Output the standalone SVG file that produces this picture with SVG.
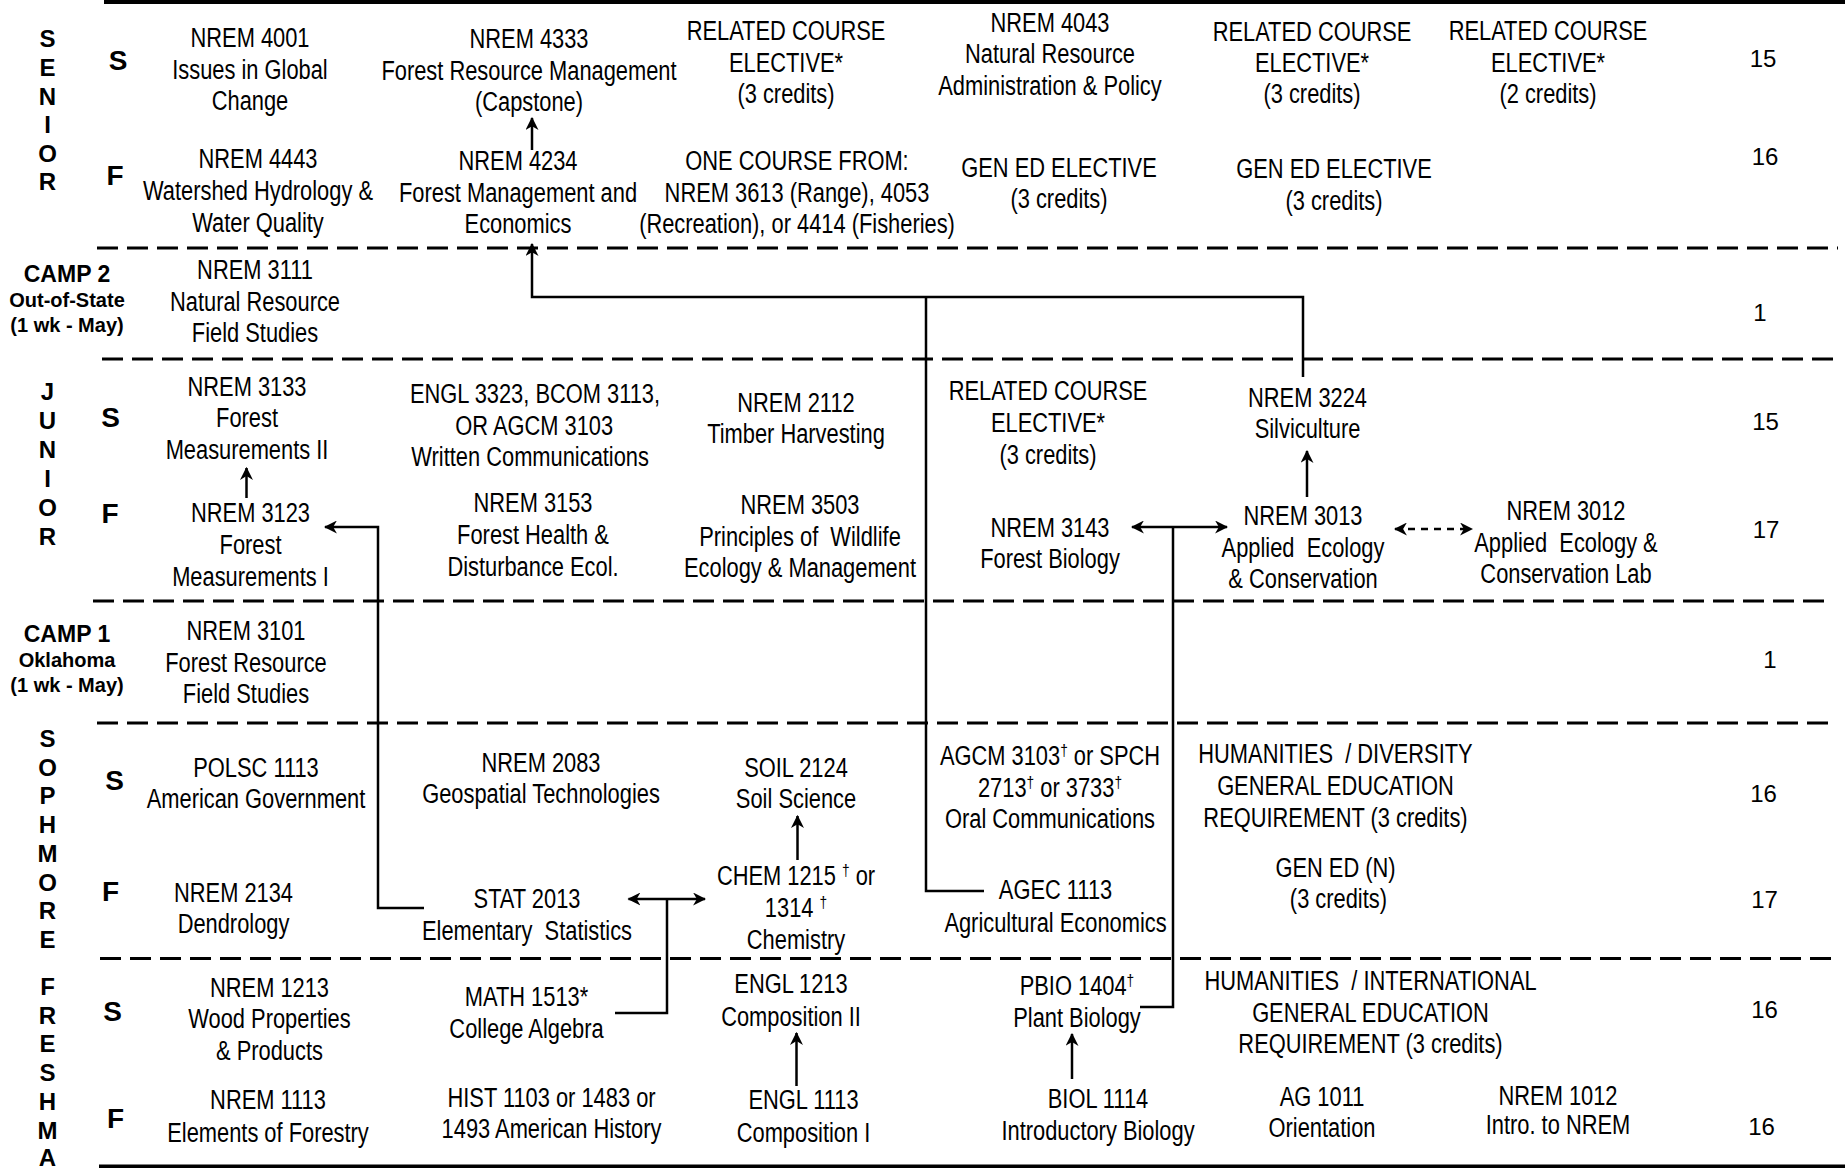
<svg xmlns="http://www.w3.org/2000/svg" width="1845" height="1168" viewBox="0 0 1845 1168">
<defs>
<style>
.c{font-family:"Liberation Sans",Arial,sans-serif;font-size:27px;text-anchor:middle;fill:#000}
.n{font-family:"Liberation Sans",Arial,sans-serif;font-size:24px;text-anchor:middle;fill:#000}
.v{font-family:"Liberation Sans",Arial,sans-serif;font-size:24px;font-weight:bold;text-anchor:middle;fill:#000}
.sem{font-family:"Liberation Sans",Arial,sans-serif;font-size:28px;font-weight:bold;text-anchor:middle;fill:#000}
.camp{font-family:"Liberation Sans",Arial,sans-serif;font-size:23px;font-weight:bold;text-anchor:middle;fill:#000}
.camps{font-family:"Liberation Sans",Arial,sans-serif;font-size:20px;font-weight:bold;text-anchor:middle;fill:#000}
.sup{font-size:17px}
.solid{stroke:#000;stroke-width:4;fill:none}
.dash{stroke:#000;stroke-width:3;fill:none;stroke-dasharray:21 9}
.con{stroke:#000;stroke-width:2.5;fill:none}
.arr{marker-end:url(#ah)}
.both{marker-start:url(#ah);marker-end:url(#ah)}
.dsh{stroke-dasharray:7 6}
</style>
<marker id="ah" viewBox="0 0 12 12" refX="11" refY="6" markerWidth="13" markerHeight="13" markerUnits="userSpaceOnUse" orient="auto-start-reverse">
<path d="M0,0 L12,6 L0,12 L3.5,6 z" fill="#000"/>
</marker>
</defs>
<rect width="1845" height="1168" fill="#fff"/>

<g id="grid">
<line class="solid" x1="104" y1="2" x2="1845" y2="2"/>
<line class="dash" x1="97" y1="248" x2="1838" y2="248"/>
<line class="dash" x1="102" y1="359" x2="1838" y2="359"/>
<line class="dash" x1="93" y1="601" x2="1830" y2="601"/>
<line class="dash" x1="97" y1="723" x2="1835" y2="723"/>
<line class="dash" x1="100" y1="958.5" x2="1838" y2="958.5"/>
<line class="solid" x1="99" y1="1166.5" x2="1845" y2="1166.5"/>
</g>

<g id="year-labels">
<text class="v"><tspan x="47.5" y="47">S</tspan><tspan x="47.5" y="76">E</tspan><tspan x="47.5" y="105">N</tspan><tspan x="47.5" y="133">I</tspan><tspan x="47.5" y="162">O</tspan><tspan x="47.5" y="190">R</tspan></text>
<text class="camp" x="67" y="282">CAMP 2</text>
<text class="camps" x="67" y="307">Out-of-State</text>
<text class="camps" x="67" y="332">(1 wk - May)</text>
<text class="v"><tspan x="47.5" y="400">J</tspan><tspan x="47.5" y="429">U</tspan><tspan x="47.5" y="458">N</tspan><tspan x="47.5" y="487">I</tspan><tspan x="47.5" y="516">O</tspan><tspan x="47.5" y="545">R</tspan></text>
<text class="camp" x="67" y="642">CAMP 1</text>
<text class="camps" x="67" y="667">Oklahoma</text>
<text class="camps" x="67" y="692">(1 wk - May)</text>
<text class="v"><tspan x="47.5" y="747">S</tspan><tspan x="47.5" y="775.7">O</tspan><tspan x="47.5" y="804.4">P</tspan><tspan x="47.5" y="833">H</tspan><tspan x="47.5" y="861.8">M</tspan><tspan x="47.5" y="890.5">O</tspan><tspan x="47.5" y="919">R</tspan><tspan x="47.5" y="948">E</tspan></text>
<text class="v"><tspan x="47.5" y="995">F</tspan><tspan x="47.5" y="1023.7">R</tspan><tspan x="47.5" y="1052.4">E</tspan><tspan x="47.5" y="1081">S</tspan><tspan x="47.5" y="1109.8">H</tspan><tspan x="47.5" y="1138.5">M</tspan><tspan x="47.5" y="1166">A</tspan></text>
</g>

<g id="semester-labels">
<text class="sem" x="118" y="70">S</text>
<text class="sem" x="115" y="185">F</text>
<text class="sem" x="110.5" y="427">S</text>
<text class="sem" x="110" y="523">F</text>
<text class="sem" x="114.5" y="790">S</text>
<text class="sem" x="110.5" y="901">F</text>
<text class="sem" x="112.5" y="1021">S</text>
<text class="sem" x="115.5" y="1128">F</text>
</g>

<g id="credits">
<text class="n" x="1763" y="67">15</text>
<text class="n" x="1765" y="165">16</text>
<text class="n" x="1760" y="321">1</text>
<text class="n" x="1765.5" y="430">15</text>
<text class="n" x="1766" y="538">17</text>
<text class="n" x="1770" y="668">1</text>
<text class="n" x="1763.5" y="802">16</text>
<text class="n" x="1764.5" y="908">17</text>
<text class="n" x="1764.5" y="1018">16</text>
<text class="n" x="1761.5" y="1135">16</text>
</g>

<g id="connectors">
<path class="con arr" d="M532 150 V118"/>
<path class="con arr" d="M1303 377 V297 H532 V244"/>
<path class="con" d="M984 891 H926 V297"/>
<path class="con arr" d="M246.5 498 V468"/>
<path class="con arr" d="M424 908 H378 V527 H325"/>
<path class="con both" d="M1132 527 H1227"/>
<path class="con" d="M1140 1007 H1173 V527"/>
<path class="con arr" d="M1307 497 V451"/>
<path class="con both dsh" d="M1395 529 H1472"/>
<path class="con both" d="M628.5 899 H705"/>
<path class="con" d="M615 1013 H667 V899"/>
<path class="con arr" d="M797.5 860 V816"/>
<path class="con arr" d="M796.5 1086 V1033"/>
<path class="con arr" d="M1072 1079 V1034"/>
</g>

<g id="n4001"><text class="c" transform="translate(250 0) scale(0.81 1)"><tspan x="0" y="47">NREM 4001</tspan><tspan x="0" y="79">Issues in Global</tspan><tspan x="0" y="110">Change</tspan></text></g>
<g id="n4333"><text class="c" transform="translate(529 0) scale(0.81 1)"><tspan x="0" y="48">NREM 4333</tspan><tspan x="0" y="80">Forest Resource Management</tspan><tspan x="0" y="111">(Capstone)</tspan></text></g>
<g id="rce1"><text class="c" transform="translate(786 0) scale(0.81 1)"><tspan x="0" y="40">RELATED COURSE</tspan><tspan x="0" y="72">ELECTIVE*</tspan><tspan x="0" y="103">(3 credits)</tspan></text></g>
<g id="n4043"><text class="c" transform="translate(1050 0) scale(0.81 1)"><tspan x="0" y="32">NREM 4043</tspan><tspan x="0" y="63">Natural Resource</tspan><tspan x="0" y="95">Administration &amp; Policy</tspan></text></g>
<g id="rce2"><text class="c" transform="translate(1312 0) scale(0.81 1)"><tspan x="0" y="41">RELATED COURSE</tspan><tspan x="0" y="72">ELECTIVE*</tspan><tspan x="0" y="103">(3 credits)</tspan></text></g>
<g id="rce3"><text class="c" transform="translate(1548 0) scale(0.81 1)"><tspan x="0" y="40">RELATED COURSE</tspan><tspan x="0" y="72">ELECTIVE*</tspan><tspan x="0" y="103">(2 credits)</tspan></text></g>

<g id="n4443"><text class="c" transform="translate(258 0) scale(0.81 1)"><tspan x="0" y="168">NREM 4443</tspan><tspan x="0" y="200">Watershed Hydrology &amp;</tspan><tspan x="0" y="232">Water Quality</tspan></text></g>
<g id="n4234"><text class="c" transform="translate(518 0) scale(0.81 1)"><tspan x="0" y="170">NREM 4234</tspan><tspan x="0" y="202">Forest Management and</tspan><tspan x="0" y="233">Economics</tspan></text></g>
<g id="onecourse"><text class="c" transform="translate(797 0) scale(0.81 1)"><tspan x="0" y="170">ONE COURSE FROM:</tspan><tspan x="0" y="202">NREM 3613 (Range), 4053</tspan><tspan x="0" y="233">(Recreation), or 4414 (Fisheries)</tspan></text></g>
<g id="gened1"><text class="c" transform="translate(1059 0) scale(0.81 1)"><tspan x="0" y="177">GEN ED ELECTIVE</tspan><tspan x="0" y="208">(3 credits)</tspan></text></g>
<g id="gened2"><text class="c" transform="translate(1334 0) scale(0.81 1)"><tspan x="0" y="178">GEN ED ELECTIVE</tspan><tspan x="0" y="210">(3 credits)</tspan></text></g>

<g id="n3111"><text class="c" transform="translate(255 0) scale(0.81 1)"><tspan x="0" y="279">NREM 3111</tspan><tspan x="0" y="311">Natural Resource</tspan><tspan x="0" y="342">Field Studies</tspan></text></g>

<g id="n3133"><text class="c" transform="translate(247 0) scale(0.81 1)"><tspan x="0" y="396">NREM 3133</tspan><tspan x="0" y="427">Forest</tspan><tspan x="0" y="459">Measurements II</tspan></text></g>
<g id="writtencomm"><text class="c" transform="translate(535 0) scale(0.81 1)"><tspan x="0" y="403">ENGL 3323, BCOM 3113,</tspan><tspan x="-1" y="435">OR AGCM 3103</tspan><tspan x="-6" y="466">Written Communications</tspan></text></g>
<g id="n2112"><text class="c" transform="translate(796 0) scale(0.81 1)"><tspan x="0" y="412">NREM 2112</tspan><tspan x="0" y="443">Timber Harvesting</tspan></text></g>
<g id="rce4"><text class="c" transform="translate(1048 0) scale(0.81 1)"><tspan x="0" y="400">RELATED COURSE</tspan><tspan x="0" y="432">ELECTIVE*</tspan><tspan x="0" y="464">(3 credits)</tspan></text></g>
<g id="n3224"><text class="c" transform="translate(1307.5 0) scale(0.81 1)"><tspan x="0" y="407">NREM 3224</tspan><tspan x="0" y="438">Silviculture</tspan></text></g>

<g id="n3123"><text class="c" transform="translate(250.5 0) scale(0.81 1)"><tspan x="0" y="522">NREM 3123</tspan><tspan x="0" y="554">Forest</tspan><tspan x="0" y="586">Measurements I</tspan></text></g>
<g id="n3153"><text class="c" transform="translate(533 0) scale(0.81 1)"><tspan x="0" y="512">NREM 3153</tspan><tspan x="0" y="544">Forest Health &amp;</tspan><tspan x="0" y="576">Disturbance Ecol.</tspan></text></g>
<g id="n3503"><text class="c" transform="translate(800 0) scale(0.81 1)"><tspan x="0" y="514">NREM 3503</tspan><tspan x="0" y="546">Principles of&#160; Wildlife</tspan><tspan x="0" y="577">Ecology &amp; Management</tspan></text></g>
<g id="n3143"><text class="c" transform="translate(1050 0) scale(0.81 1)"><tspan x="0" y="537">NREM 3143</tspan><tspan x="0" y="568">Forest Biology</tspan></text></g>
<g id="n3013"><text class="c" transform="translate(1303 0) scale(0.81 1)"><tspan x="0" y="525">NREM 3013</tspan><tspan x="0" y="557">Applied&#160; Ecology</tspan><tspan x="0" y="588">&amp; Conservation</tspan></text></g>
<g id="n3012"><text class="c" transform="translate(1566 0) scale(0.81 1)"><tspan x="0" y="520">NREM 3012</tspan><tspan x="0" y="552">Applied&#160; Ecology &amp;</tspan><tspan x="0" y="583">Conservation Lab</tspan></text></g>

<g id="n3101"><text class="c" transform="translate(246 0) scale(0.81 1)"><tspan x="0" y="640">NREM 3101</tspan><tspan x="0" y="672">Forest Resource</tspan><tspan x="0" y="703">Field Studies</tspan></text></g>

<g id="polsc1113"><text class="c" transform="translate(256 0) scale(0.81 1)"><tspan x="0" y="777">POLSC 1113</tspan><tspan x="0" y="808">American Government</tspan></text></g>
<g id="n2083"><text class="c" transform="translate(541 0) scale(0.81 1)"><tspan x="0" y="772">NREM 2083</tspan><tspan x="0" y="803">Geospatial Technologies</tspan></text></g>
<g id="soil2124"><text class="c" transform="translate(796 0) scale(0.81 1)"><tspan x="0" y="777">SOIL 2124</tspan><tspan x="0" y="808">Soil Science</tspan></text></g>
<g id="oralcomm"><text class="c" transform="translate(1050 0) scale(0.81 1)"><tspan x="0" y="765">AGCM 3103<tspan class="sup" dy="-9">†</tspan><tspan dy="9"> or SPCH</tspan></tspan><tspan x="0" y="797">2713<tspan class="sup" dy="-9">†</tspan><tspan dy="9"> or 3733</tspan><tspan class="sup" dy="-9">†</tspan></tspan><tspan x="0" y="828">Oral Communications</tspan></text></g>
<g id="humdiv"><text class="c" transform="translate(1335.5 0) scale(0.81 1)"><tspan x="0" y="763">HUMANITIES&#160; / DIVERSITY</tspan><tspan x="0" y="795">GENERAL EDUCATION</tspan><tspan x="0" y="827">REQUIREMENT (3 credits)</tspan></text></g>

<g id="n2134"><text class="c" transform="translate(233.5 0) scale(0.81 1)"><tspan x="0" y="902">NREM 2134</tspan><tspan x="0" y="933">Dendrology</tspan></text></g>
<g id="stat2013"><text class="c" transform="translate(527 0) scale(0.81 1)"><tspan x="0" y="908">STAT 2013</tspan><tspan x="0" y="940">Elementary&#160; Statistics</tspan></text></g>
<g id="chem"><text class="c" transform="translate(796 0) scale(0.81 1)"><tspan x="0" y="885">CHEM 1215 <tspan class="sup" dy="-9">†</tspan><tspan dy="9"> or</tspan></tspan><tspan x="0" y="917">1314 <tspan class="sup" dy="-9">†</tspan></tspan><tspan x="0" y="949">Chemistry</tspan></text></g>
<g id="agec1113"><text class="c" transform="translate(1055.5 0) scale(0.81 1)"><tspan x="0" y="899">AGEC 1113</tspan><tspan x="0" y="932">Agricultural Economics</tspan></text></g>
<g id="genedn"><text class="c" transform="translate(1335.5 0) scale(0.81 1)"><tspan x="0" y="877">GEN ED (N)</tspan><tspan x="3.6" y="908">(3 credits)</tspan></text></g>

<g id="n1213"><text class="c" transform="translate(269.5 0) scale(0.81 1)"><tspan x="0" y="997">NREM 1213</tspan><tspan x="0" y="1028">Wood Properties</tspan><tspan x="0" y="1060">&amp; Products</tspan></text></g>
<g id="math1513"><text class="c" transform="translate(526.5 0) scale(0.81 1)"><tspan x="0" y="1006">MATH 1513*</tspan><tspan x="0" y="1038">College Algebra</tspan></text></g>
<g id="engl1213"><text class="c" transform="translate(791 0) scale(0.81 1)"><tspan x="0" y="993">ENGL 1213</tspan><tspan x="0" y="1026">Composition II</tspan></text></g>
<g id="pbio1404"><text class="c" transform="translate(1077 0) scale(0.81 1)"><tspan x="0" y="995">PBIO 1404<tspan class="sup" dy="-9">†</tspan></tspan><tspan x="0" y="1027">Plant Biology</tspan></text></g>
<g id="humint"><text class="c" transform="translate(1370.5 0) scale(0.81 1)"><tspan x="0" y="990">HUMANITIES&#160; / INTERNATIONAL</tspan><tspan x="0" y="1022">GENERAL EDUCATION</tspan><tspan x="0" y="1053">REQUIREMENT (3 credits)</tspan></text></g>

<g id="n1113"><text class="c" transform="translate(268 0) scale(0.81 1)"><tspan x="0" y="1109">NREM 1113</tspan><tspan x="0" y="1142">Elements of Forestry</tspan></text></g>
<g id="hist"><text class="c" transform="translate(551.5 0) scale(0.81 1)"><tspan x="0" y="1107">HIST 1103 or 1483 or</tspan><tspan x="0" y="1138">1493 American History</tspan></text></g>
<g id="engl1113"><text class="c" transform="translate(803.5 0) scale(0.81 1)"><tspan x="0" y="1109">ENGL 1113</tspan><tspan x="0" y="1142">Composition I</tspan></text></g>
<g id="biol1114"><text class="c" transform="translate(1098 0) scale(0.81 1)"><tspan x="0" y="1108">BIOL 1114</tspan><tspan x="0" y="1140">Introductory Biology</tspan></text></g>
<g id="ag1011"><text class="c" transform="translate(1322 0) scale(0.81 1)"><tspan x="0" y="1106">AG 1011</tspan><tspan x="0" y="1137">Orientation</tspan></text></g>
<g id="n1012"><text class="c" transform="translate(1558 0) scale(0.81 1)"><tspan x="0" y="1105">NREM 1012</tspan><tspan x="0" y="1134">Intro. to NREM</tspan></text></g>
</svg>
